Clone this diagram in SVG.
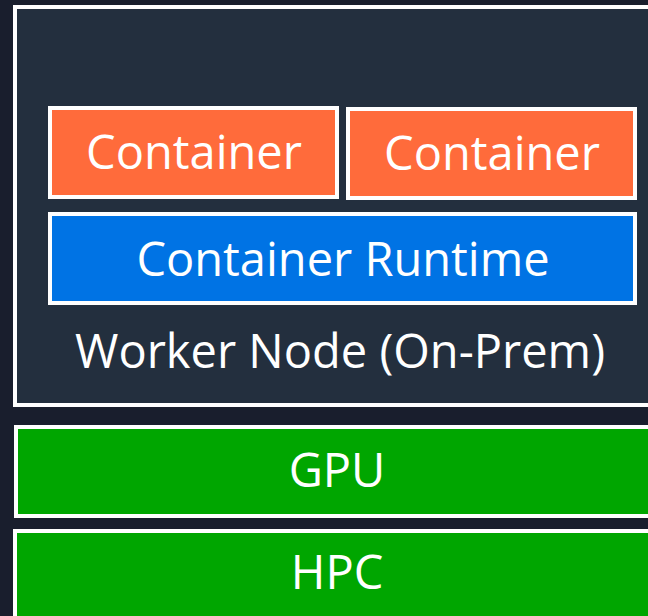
<svg xmlns="http://www.w3.org/2000/svg" width="648" height="616" viewBox="0 0 648 616">
  <style>
    .box { stroke: #ffffff; stroke-width: 4; }
    .frame { fill: #232f3e; }
    .orange { fill: #ff6b3b; }
    .blue { fill: #0073e4; }
    .green { fill: #00a600; }
    .lbl { font-family: "Open Sans", "Liberation Sans", sans-serif; font-size: 47px; fill: #ffffff; text-anchor: middle; }
  </style>
  <rect width="648" height="616" fill="#191e2d"/>

  <g id="worker-node">
    <rect class="box frame" x="15" y="7" width="660" height="398"/>
    <text class="lbl" x="340" y="368">Worker Node (On-Prem)</text>
  </g>

  <g id="container-1">
    <rect class="box orange" x="50" y="108" width="287" height="89"/>
    <text class="lbl" x="194" y="169">Container</text>
  </g>

  <g id="container-2">
    <rect class="box orange" x="348" y="109" width="287" height="89"/>
    <text class="lbl" x="492" y="170">Container</text>
  </g>

  <g id="container-runtime">
    <rect class="box blue" x="50" y="214" width="585" height="89"/>
    <text class="lbl" x="343" y="276">Container Runtime</text>
  </g>

  <g id="gpu">
    <rect class="box green" x="16" y="427" width="660" height="89"/>
    <text class="lbl" x="337" y="487">GPU</text>
  </g>

  <g id="hpc">
    <rect class="box green" x="15" y="531" width="660" height="120"/>
    <text class="lbl" x="337" y="589">HPC</text>
  </g>

  <g id="connectors"/>
</svg>
